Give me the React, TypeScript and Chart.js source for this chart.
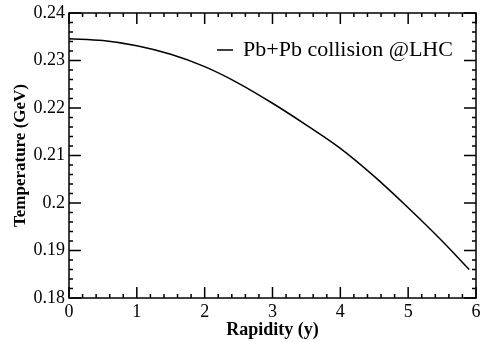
import React, { useEffect, useRef } from "react";
import { Chart, registerables } from "chart.js";

Chart.register(...registerables);

const rapidity = [0, 0.5, 1.0, 1.5, 2.0, 2.5, 3.0, 3.5, 4.0, 4.5, 5.0, 5.5, 5.9];
const temperature = [0.2346, 0.2342, 0.2331, 0.2313, 0.2287, 0.2252, 0.221, 0.2164, 0.2115, 0.2056, 0.199, 0.192, 0.186];
const xTickLabels = ["0", "1", "2", "3", "4", "5", "6"];
const yTickLabels = ["0.18", "0.19", "0.2", "0.21", "0.22", "0.23", "0.24"];
const seriesLabel = "Pb+Pb collision @LHC";
const xTitle = "Rapidity (y)";
const yTitle = "Temperature (GeV)";

const FONT = '"Liberation Serif"';

const framePlugin = {
  id: "rootFrame",
  afterDraw(chart: any) {
    const { ctx, chartArea } = chart;
    const { left, right, top, bottom } = chartArea;
    const xs = chart.scales.x;
    const ys = chart.scales.y;
    ctx.save();
    ctx.strokeStyle = "#000";
    ctx.lineWidth = 1.5;
    ctx.strokeRect(left, top, right - left, bottom - top);
    ctx.beginPath();
    const xMajor = 11, xMinor = 4;
    for (let i = 0; i <= 30; i++) {
      const v = xs.min + (i * (xs.max - xs.min)) / 30;
      const px = xs.getPixelForValue(v);
      const len = i % 5 === 0 ? xMajor : xMinor;
      ctx.moveTo(px, bottom);
      ctx.lineTo(px, bottom - len);
      ctx.moveTo(px, top);
      ctx.lineTo(px, top + len);
    }
    const yMajor = 12, yMinor = 4;
    for (let i = 0; i <= 30; i++) {
      const v = ys.min + (i * (ys.max - ys.min)) / 30;
      const py = ys.getPixelForValue(v);
      const len = i % 5 === 0 ? yMajor : yMinor;
      ctx.moveTo(left, py);
      ctx.lineTo(left + len, py);
      ctx.moveTo(right, py);
      ctx.lineTo(right - len, py);
    }
    ctx.stroke();

    const ds = chart.data.datasets[0];
    ctx.lineWidth = 1.5;
    ctx.strokeStyle = ds.borderColor;
    ctx.beginPath();
    ctx.moveTo(217, 50);
    ctx.lineTo(233, 50);
    ctx.stroke();
    ctx.fillStyle = "#000";
    ctx.font = `22px ${FONT}`;
    ctx.textAlign = "left";
    ctx.textBaseline = "alphabetic";
    ctx.fillText(ds.label, 243, 56);
    ctx.restore();
  },
};

export default function App() {
  const ref = useRef<HTMLCanvasElement | null>(null);
  useEffect(() => {
    const chart = new Chart(ref.current!, {
      type: "line",
      data: {
        datasets: [
          {
            label: seriesLabel,
            data: rapidity.map((x, i) => ({ x, y: temperature[i] })),
            borderColor: "#000",
            borderWidth: 1.5,
            pointRadius: 0,
            fill: false,
            cubicInterpolationMode: "monotone",
          },
        ],
      },
      options: {
        animation: false,
        responsive: false,
        layout: { padding: { top: 13, right: 4, left: 0, bottom: 0 } },
        plugins: { legend: { display: false }, tooltip: { enabled: false } },
        scales: {
          x: {
            type: "linear",
            min: 0,
            max: 6,
            grid: { display: false, drawTicks: false },
            border: { display: false },
            ticks: {
              stepSize: 1,
              autoSkip: false,
              maxRotation: 0,
              padding: 3,
              color: "#000",
              font: { family: FONT, size: 18 },
              callback: (v: any) => xTickLabels[Math.round(Number(v))],
            },
            title: {
              display: true,
              text: xTitle,
              color: "#000",
              font: { family: FONT, size: 18, weight: "bold" },
              padding: { top: 0, bottom: 1 },
            },
            afterFit: (s: any) => {
              s.height = 44;
              s.paddingLeft = 0;
              s.paddingRight = 0;
            },
          },
          y: {
            type: "linear",
            min: 0.18,
            max: 0.24,
            grid: { display: false, drawTicks: false },
            border: { display: false },
            ticks: {
              stepSize: 0.01,
              autoSkip: false,
              padding: 4,
              color: "#000",
              font: { family: FONT, size: 18 },
              callback: (v: any) => yTickLabels[Math.round((Number(v) - 0.18) / 0.01)],
            },
            title: {
              display: true,
              text: yTitle,
              color: "#000",
              font: { family: FONT, size: 17, weight: "bold" },
              padding: { top: 10, bottom: 0 },
            },
            afterFit: (s: any) => {
              s.width = 69;
              s.paddingTop = 0;
              s.paddingBottom = 0;
            },
          },
        },
      },
      plugins: [framePlugin],
    } as any);
    return () => chart.destroy();
  }, []);
  return (
    <div style={{ position: "fixed", left: 0, top: 0 }}>
      <canvas ref={ref} width={480} height={342} />
    </div>
  );
}
